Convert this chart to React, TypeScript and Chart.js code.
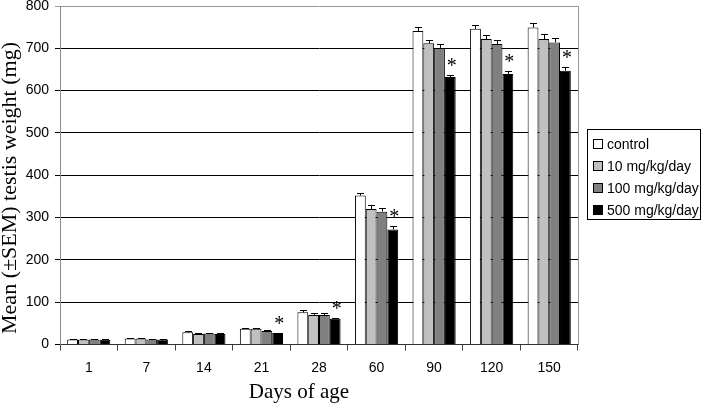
import React, { useEffect, useRef } from "react";
import { Chart, registerables } from "chart.js";

Chart.register(...registerables);

const categories = ["1", "7", "14", "21", "28", "60", "90", "120", "150"];
const seriesLabels = ["control", "10 mg/kg/day", "100 mg/kg/day", "500 mg/kg/day"];
const control = [12, 14, 29, 37, 76, 352, 741, 746, 749];
const dose10 = [12, 14, 25, 37, 70, 320, 712, 722, 722];
const dose100 = [12, 12, 26, 32, 70, 314, 701, 710, 714];
const dose500 = [11, 12, 25, 27, 61, 272, 632, 639, 647];
const controlSem = [1, 1, 2, 2, 5, 6, 9, 10, 11];
const dose10Sem = [1, 1, 2, 2, 4, 10, 8, 10, 11];
const dose100Sem = [1, 1, 2, 2, 4, 9, 9, 10, 11];
const dose500Sem = [1, 1, 1, 1, 2, 9, 5, 8, 9];
const significant = [false, false, false, true, true, true, true, true, true];
const yTicks = [0, 100, 200, 300, 400, 500, 600, 700, 800];
const xTitle = "Days of age";
const yTitle = "Mean (\u00B1SEM) testis weight (mg)";

const colors = ["#FFFFFF", "#C0C0C0", "#808080", "#000000"];
const values = [control, dose10, dose100, dose500];
const sems = [controlSem, dose10Sem, dose100Sem, dose500Sem];

const serif = "'Liberation Serif', 'Times New Roman', serif";
const sans = "'Liberation Sans', Arial, sans-serif";

const errorBarPlugin = {
  id: "errorBars",
  afterDatasetsDraw(chart: any) {
    const ctx = chart.ctx;
    const yScale = chart.scales.y;
    const area = chart.chartArea;
    ctx.save();
    // right border of plot area
    ctx.strokeStyle = "#999";
    ctx.lineWidth = 1;
    ctx.beginPath();
    ctx.moveTo(Math.round(area.right) + 0.5, area.top);
    ctx.lineTo(Math.round(area.right) + 0.5, area.bottom);
    ctx.stroke();
    chart.data.datasets.forEach((ds: any, di: number) => {
      const meta = chart.getDatasetMeta(di);
      meta.data.forEach((bar: any, i: number) => {
        const v = values[di][i];
        const s = sems[di][i];
        const yTop = Math.round(yScale.getPixelForValue(v + s)) + 0.5;
        const yBar = yScale.getPixelForValue(v);
        const x = Math.round(bar.x) + 0.5;
        ctx.strokeStyle = "#000";
        ctx.lineWidth = 1;
        ctx.beginPath();
        ctx.moveTo(x, yBar);
        ctx.lineTo(x, yTop);
        ctx.moveTo(x - 3.5, yTop);
        ctx.lineTo(x + 3.5, yTop);
        ctx.stroke();
        if (di === 3 && significant[i]) {
          ctx.fillStyle = "#000";
          ctx.font = `20px ${serif}`;
          ctx.textAlign = "center";
          ctx.textBaseline = "middle";
          ctx.fillText("*", bar.x + 1.5, yTop - 9);
        }
      });
    });
    ctx.restore();
  },
};

const titlesPlugin = {
  id: "axisTitles",
  afterDraw(chart: any) {
    const ctx = chart.ctx;
    ctx.save();
    ctx.fillStyle = "#000";
    ctx.textAlign = "center";
    ctx.textBaseline = "middle";
    ctx.font = `21px ${serif}`;
    ctx.fillText(xTitle, 299, 392);
    ctx.translate(10, 188);
    ctx.rotate(-Math.PI / 2);
    ctx.font = `22px ${serif}`;
    ctx.fillText(yTitle, 0, 0);
    ctx.restore();
  },
};

export default function App() {
  const ref = useRef<HTMLCanvasElement>(null);
  useEffect(() => {
    if (!ref.current) return;
    const chart = new Chart(ref.current, {
      type: "bar",
      data: {
        labels: categories,
        datasets: values.map((vals, i) => ({
          label: seriesLabels[i],
          data: vals,
          backgroundColor: colors[i],
          borderColor: "#000",
          borderWidth: 1,
          categoryPercentage: 0.75,
          barPercentage: 1.0,
        })),
      },
      options: {
        animation: false,
        responsive: false,
        maintainAspectRatio: false,
        layout: { padding: { top: 6, right: 124, left: 0, bottom: 0 } },
        plugins: {
          legend: { display: false },
          tooltip: { enabled: false },
        },
        scales: {
          x: {
            afterFit: (s: any) => {
              s.height = 59.5;
              s.paddingLeft = 0;
              s.paddingRight = 0;
            },
            grid: {
              offset: true,
              drawOnChartArea: false,
              drawTicks: true,
              tickLength: 6,
              color: "#444",
            },
            border: { color: "#333" },
            ticks: {
              color: "#000",
              font: { family: sans, size: 14 },
              padding: 9,
            },
          },
          y: {
            min: 0,
            max: 800,
            afterFit: (s: any) => {
              s.width = 60;
              s.paddingTop = 0;
              s.paddingBottom = 0;
            },
            afterBuildTicks: (axis: any) => {
              axis.ticks = yTicks.map((v) => ({ value: v }));
            },
            grid: {
              color: (c: any) => (c.tick && c.tick.value === 800 ? "#999" : "#000"),
              drawTicks: true,
              tickLength: 5,
            },
            border: { color: "#888" },
            ticks: {
              color: "#000",
              font: { family: sans, size: 14 },
              padding: 6,
            },
          },
        },
      },
      plugins: [errorBarPlugin, titlesPlugin],
    });
    return () => chart.destroy();
  }, []);

  return (
    <div style={{ position: "fixed", left: 0, top: 0, width: 702, height: 404, background: "#fff" }}>
      <canvas ref={ref} width={702} height={404} style={{ width: 702, height: 404, display: "block" }} />
      <div
        style={{
          position: "absolute",
          left: 587,
          top: 129,
          width: 114,
          height: 91,
          border: "1px solid #000",
          boxSizing: "border-box",
          padding: "3px 0 0 5px",
          fontFamily: sans,
          fontSize: 14,
          color: "#000",
        }}
      >
        {seriesLabels.map((l, i) => (
          <div key={l} style={{ display: "flex", alignItems: "center", height: 22, whiteSpace: "nowrap" }}>
            <span
              style={{
                display: "inline-block",
                width: 8,
                height: 8,
                border: "1px solid #000",
                background: colors[i],
                marginRight: 4,
              }}
            />
            {l}
          </div>
        ))}
      </div>
    </div>
  );
}
